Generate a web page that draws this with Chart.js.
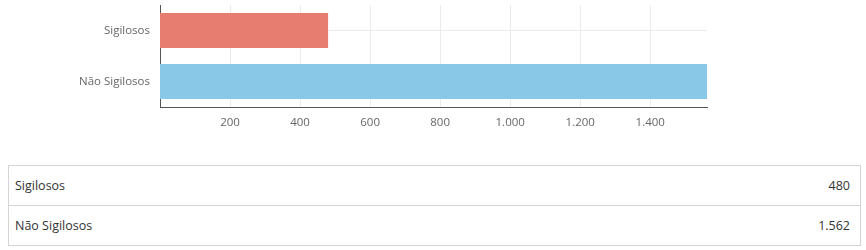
<!DOCTYPE html>
<html>
<head>
<meta charset="utf-8">
<script src="https://cdn.jsdelivr.net/npm/chart.js@4/dist/chart.umd.min.js"></script>
<style>
  html, body { margin: 0; padding: 0; background: #fff; }
  #wrap { position: absolute; left: 0; top: 0; width: 866px; height: 140px; }
  table { position: absolute; left: 8px; top: 165px; width: 853px; border-collapse: collapse;
          font-family: "Open Sans", sans-serif; font-size: 12.5px; color: #333; }
  td { border: 1px solid #d4d4d4; height: 39px; padding: 0 10px 0 6px; }
  td.v { text-align: right; border-left: none; }
  td.l { border-right: none; }
</style>
</head>
<body>
<div id="wrap"><canvas id="c" width="866" height="140"></canvas></div>
<table id="t"></table>
<script>
const categories = ["Sigilosos", "Não Sigilosos"];
const values = [480, 1562];
const valueLabels = ["480", "1.562"];
const tickValues = [200, 400, 600, 800, 1000, 1200, 1400];
const tickLabels = ["200", "400", "600", "800", "1.000", "1.200", "1.400"];
const barColors = ["#e77c71", "#89c8e7"];

const tbl = document.getElementById('t');
categories.forEach((c, i) => {
  const tr = document.createElement('tr');
  const a = document.createElement('td'); a.className = 'l'; a.textContent = c;
  const b = document.createElement('td'); b.className = 'v'; b.textContent = valueLabels[i];
  tr.appendChild(a); tr.appendChild(b); tbl.appendChild(tr);
});

new Chart(document.getElementById('c'), {
  type: 'bar',
  data: {
    labels: categories,
    datasets: [{ data: values, backgroundColor: barColors, borderWidth: 0,
                 barPercentage: 0.86, categoryPercentage: 0.8 }]
  },
  options: {
    indexAxis: 'y',
    responsive: false,
    animation: false,
    layout: { padding: { top: 5, right: 159, left: 0, bottom: 0 } },
    plugins: { legend: { display: false }, tooltip: { enabled: false } },
    scales: {
      x: {
        min: 0, max: Math.max(...values),
        afterBuildTicks: s => { s.ticks = tickValues.map(v => ({ value: v })); },
        afterFit: s => { s.height = 33; s.paddingLeft = 0; s.paddingRight = 0; },
        grid: { color: '#ebebeb', drawTicks: false },
        border: { color: '#555', width: 1 },
        ticks: {
          padding: 9, color: '#666',
          font: { family: 'Open Sans', size: 11.5 },
          callback: (v) => tickLabels[tickValues.indexOf(v)]
        }
      },
      y: {
        afterFit: s => { s.width = 160; s.paddingTop = 0; s.paddingBottom = 0; },
        grid: { color: '#ebebeb', drawTicks: false, offset: false },
        border: { color: '#555', width: 1 },
        ticks: { padding: 10, color: '#666', font: { family: 'Open Sans', size: 11.5 } }
      }
    }
  }
});
</script>
</body>
</html>
